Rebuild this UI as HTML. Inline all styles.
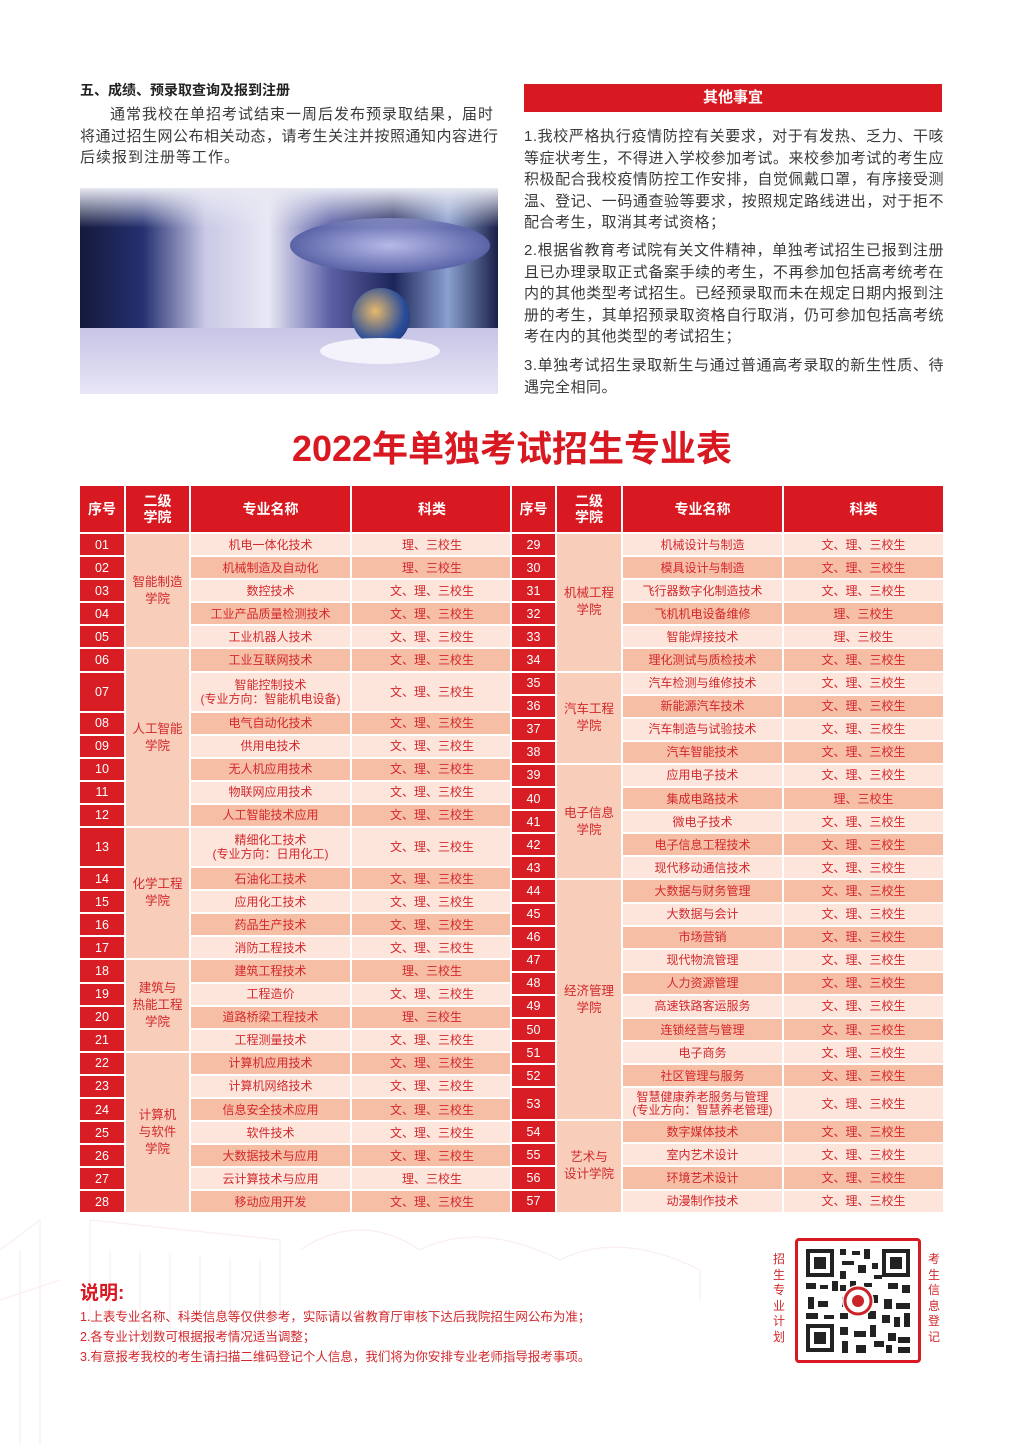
<!DOCTYPE html>
<html><head><meta charset="utf-8"><style>
*{margin:0;padding:0;box-sizing:border-box}
body{width:1024px;height:1444px;background:#fff;position:relative;overflow:hidden;font-family:"Liberation Sans","Noto Sans CJK SC",sans-serif;color:#333}
.abs{position:absolute}
.p{font-size:15px;letter-spacing:1px;line-height:21.6px;color:#3a3a3a;text-align:justify}
.pr{letter-spacing:0.5px}
table{position:absolute;border-collapse:collapse;table-layout:fixed;font-size:12px;color:#d2282c}
td{border:2px solid #fff;text-align:center;vertical-align:middle;height:23.1px;padding:0;line-height:14px}
th{background:#d81921;color:#fff;border:2px solid #fff;font-size:14px;font-weight:bold;height:48px;line-height:16px}
td.n{background:#d81d24;color:#fff;font-size:12.5px}
td.c{background:#f8cdb9;color:#d2282c;font-size:12.5px;line-height:17px}
tr.l td.m{background:#fde5db}
tr.d td.m{background:#f7bea6}
tr.h td{height:40px}
tr.h2 td{height:33px}
.note{font-size:12.5px;color:#d2282c;line-height:20px}
.vt{position:absolute;width:14px;font-size:12px;color:#d2282c;line-height:15.5px;text-align:center}
</style></head><body>
<svg class="abs" style="left:0;top:1100px" width="1024" height="344">
<g stroke="#fbeeee" fill="none" stroke-width="1.2">
<path d="M0 150 L40 120 L40 344 M0 200 L60 180 M20 150 V344"/>
<path d="M90 120 L280 140 L280 260 L90 250 Z M110 150 V250 M140 152 V252 M170 154 V254 M200 156 V256 M230 158 V258 M260 160 V258"/>
<path d="M300 150 Q360 110 420 150 Q480 120 560 160 Q620 130 700 170 L700 200"/>
</g></svg>

<div class="abs" style="left:80px;top:80px;font-size:14px;font-weight:bold;color:#222">五、成绩、预录取查询及报到注册</div>
<div class="abs p" style="left:80px;top:104px;width:440px;text-align:left;white-space:nowrap"><span style="padding-left:30px"></span>通常我校在单招考试结束一周后发布预录取结果，届时<br><span style="letter-spacing:0.5px">将通过招生网公布相关动态，请考生关注并按照通知内容进行</span><br>后续报到注册等工作。</div>

<div class="abs" style="left:80px;top:188px;width:418px;height:206px;overflow:hidden;background:linear-gradient(90deg,#141a3c 0%,#243070 15%,#c9c9e6 30%,#e9e8f5 45%,#5b5fa5 60%,#1d2558 75%,#8aa0cf 88%,#1a2048 100%)">
 <div class="abs" style="left:0;top:140px;width:418px;height:66px;background:linear-gradient(180deg,#c7c4e6,#e8e6f6)"></div>
 <div class="abs" style="left:210px;top:30px;width:200px;height:55px;border-radius:50%;background:radial-gradient(#b6b9e8,#34408c)"></div>
 <div class="abs" style="left:272px;top:100px;width:58px;height:58px;border-radius:50%;background:radial-gradient(circle at 40% 40%,#e6b86a,#2a4d9a 60%,#1a2a66)"></div>
 <div class="abs" style="left:240px;top:150px;width:120px;height:26px;border-radius:50%;background:#f4f2fa"></div>
 <div class="abs" style="left:0;top:0;width:418px;height:40px;background:linear-gradient(180deg,#e8e9f3,rgba(230,230,240,0))"></div>
</div>

<div class="abs" style="left:524px;top:84px;width:418px;height:28px;background:#d81921;color:#fff;font-size:15px;font-weight:bold;text-align:center;line-height:28px">其他事宜</div>
<div class="abs p pr" style="left:524px;top:126px;width:420px">1.我校严格执行疫情防控有关要求，对于有发热、乏力、干咳等症状考生，不得进入学校参加考试。来校参加考试的考生应积极配合我校疫情防控工作安排，自觉佩戴口罩，有序接受测温、登记、一码通查验等要求，按照规定路线进出，对于拒不配合考生，取消其考试资格；</div>
<div class="abs p pr" style="left:524px;top:240px;width:420px">2.根据省教育考试院有关文件精神，单独考试招生已报到注册且已办理录取正式备案手续的考生，不再参加包括高考统考在内的其他类型考试招生。已经预录取而未在规定日期内报到注册的考生，其单招预录取资格自行取消，仍可参加包括高考统考在内的其他类型的考试招生；</div>
<div class="abs p pr" style="left:524px;top:355px;width:420px">3.单独考试招生录取新生与通过普通高考录取的新生性质、待遇完全相同。</div>

<div class="abs" style="left:0;top:424px;width:1024px;text-align:center;font-size:36px;font-weight:bold;color:#d81921;line-height:50px">2022年单独考试招生专业表</div>

<table style="left:78px;top:484px;width:434px">
<colgroup><col style="width:46px"><col style="width:65px"><col style="width:161px"><col style="width:162px"></colgroup>
<tr><th>序号</th><th>二级<br>学院</th><th>专业名称</th><th>科类</th></tr>
<tr class="l"><td class="n">01</td><td class="c" rowspan="5">智能制造<br>学院</td><td class="m">机电一体化技术</td><td class="m">理、三校生</td></tr>
<tr class="d"><td class="n">02</td><td class="m">机械制造及自动化</td><td class="m">理、三校生</td></tr>
<tr class="l"><td class="n">03</td><td class="m">数控技术</td><td class="m">文、理、三校生</td></tr>
<tr class="d"><td class="n">04</td><td class="m">工业产品质量检测技术</td><td class="m">文、理、三校生</td></tr>
<tr class="l"><td class="n">05</td><td class="m">工业机器人技术</td><td class="m">文、理、三校生</td></tr>
<tr class="d"><td class="n">06</td><td class="c" rowspan="7">人工智能<br>学院</td><td class="m">工业互联网技术</td><td class="m">文、理、三校生</td></tr>
<tr class="l h"><td class="n">07</td><td class="m">智能控制技术<br>(专业方向：智能机电设备)</td><td class="m">文、理、三校生</td></tr>
<tr class="d"><td class="n">08</td><td class="m">电气自动化技术</td><td class="m">文、理、三校生</td></tr>
<tr class="l"><td class="n">09</td><td class="m">供用电技术</td><td class="m">文、理、三校生</td></tr>
<tr class="d"><td class="n">10</td><td class="m">无人机应用技术</td><td class="m">文、理、三校生</td></tr>
<tr class="l"><td class="n">11</td><td class="m">物联网应用技术</td><td class="m">文、理、三校生</td></tr>
<tr class="d"><td class="n">12</td><td class="m">人工智能技术应用</td><td class="m">文、理、三校生</td></tr>
<tr class="l h"><td class="n">13</td><td class="c" rowspan="5">化学工程<br>学院</td><td class="m">精细化工技术<br>(专业方向：日用化工)</td><td class="m">文、理、三校生</td></tr>
<tr class="d"><td class="n">14</td><td class="m">石油化工技术</td><td class="m">文、理、三校生</td></tr>
<tr class="l"><td class="n">15</td><td class="m">应用化工技术</td><td class="m">文、理、三校生</td></tr>
<tr class="d"><td class="n">16</td><td class="m">药品生产技术</td><td class="m">文、理、三校生</td></tr>
<tr class="l"><td class="n">17</td><td class="m">消防工程技术</td><td class="m">文、理、三校生</td></tr>
<tr class="d"><td class="n">18</td><td class="c" rowspan="4">建筑与<br>热能工程<br>学院</td><td class="m">建筑工程技术</td><td class="m">理、三校生</td></tr>
<tr class="l"><td class="n">19</td><td class="m">工程造价</td><td class="m">文、理、三校生</td></tr>
<tr class="d"><td class="n">20</td><td class="m">道路桥梁工程技术</td><td class="m">理、三校生</td></tr>
<tr class="l"><td class="n">21</td><td class="m">工程测量技术</td><td class="m">文、理、三校生</td></tr>
<tr class="d"><td class="n">22</td><td class="c" rowspan="7">计算机<br>与软件<br>学院</td><td class="m">计算机应用技术</td><td class="m">文、理、三校生</td></tr>
<tr class="l"><td class="n">23</td><td class="m">计算机网络技术</td><td class="m">文、理、三校生</td></tr>
<tr class="d"><td class="n">24</td><td class="m">信息安全技术应用</td><td class="m">文、理、三校生</td></tr>
<tr class="l"><td class="n">25</td><td class="m">软件技术</td><td class="m">文、理、三校生</td></tr>
<tr class="d"><td class="n">26</td><td class="m">大数据技术与应用</td><td class="m">文、理、三校生</td></tr>
<tr class="l"><td class="n">27</td><td class="m">云计算技术与应用</td><td class="m">理、三校生</td></tr>
<tr class="d"><td class="n">28</td><td class="m">移动应用开发</td><td class="m">文、理、三校生</td></tr>
</table>

<table style="left:510px;top:484px;width:433px">
<colgroup><col style="width:45px"><col style="width:66px"><col style="width:161px"><col style="width:161px"></colgroup>
<tr><th>序号</th><th>二级<br>学院</th><th>专业名称</th><th>科类</th></tr>
<tr class="l"><td class="n">29</td><td class="c" rowspan="6">机械工程<br>学院</td><td class="m">机械设计与制造</td><td class="m">文、理、三校生</td></tr>
<tr class="d"><td class="n">30</td><td class="m">模具设计与制造</td><td class="m">文、理、三校生</td></tr>
<tr class="l"><td class="n">31</td><td class="m">飞行器数字化制造技术</td><td class="m">文、理、三校生</td></tr>
<tr class="d"><td class="n">32</td><td class="m">飞机机电设备维修</td><td class="m">理、三校生</td></tr>
<tr class="l"><td class="n">33</td><td class="m">智能焊接技术</td><td class="m">理、三校生</td></tr>
<tr class="d"><td class="n">34</td><td class="m">理化测试与质检技术</td><td class="m">文、理、三校生</td></tr>
<tr class="l"><td class="n">35</td><td class="c" rowspan="4">汽车工程<br>学院</td><td class="m">汽车检测与维修技术</td><td class="m">文、理、三校生</td></tr>
<tr class="d"><td class="n">36</td><td class="m">新能源汽车技术</td><td class="m">文、理、三校生</td></tr>
<tr class="l"><td class="n">37</td><td class="m">汽车制造与试验技术</td><td class="m">文、理、三校生</td></tr>
<tr class="d"><td class="n">38</td><td class="m">汽车智能技术</td><td class="m">文、理、三校生</td></tr>
<tr class="l"><td class="n">39</td><td class="c" rowspan="5">电子信息<br>学院</td><td class="m">应用电子技术</td><td class="m">文、理、三校生</td></tr>
<tr class="d"><td class="n">40</td><td class="m">集成电路技术</td><td class="m">理、三校生</td></tr>
<tr class="l"><td class="n">41</td><td class="m">微电子技术</td><td class="m">文、理、三校生</td></tr>
<tr class="d"><td class="n">42</td><td class="m">电子信息工程技术</td><td class="m">文、理、三校生</td></tr>
<tr class="l"><td class="n">43</td><td class="m">现代移动通信技术</td><td class="m">文、理、三校生</td></tr>
<tr class="d"><td class="n">44</td><td class="c" rowspan="10">经济管理<br>学院</td><td class="m">大数据与财务管理</td><td class="m">文、理、三校生</td></tr>
<tr class="l"><td class="n">45</td><td class="m">大数据与会计</td><td class="m">文、理、三校生</td></tr>
<tr class="d"><td class="n">46</td><td class="m">市场营销</td><td class="m">文、理、三校生</td></tr>
<tr class="l"><td class="n">47</td><td class="m">现代物流管理</td><td class="m">文、理、三校生</td></tr>
<tr class="d"><td class="n">48</td><td class="m">人力资源管理</td><td class="m">文、理、三校生</td></tr>
<tr class="l"><td class="n">49</td><td class="m">高速铁路客运服务</td><td class="m">文、理、三校生</td></tr>
<tr class="d"><td class="n">50</td><td class="m">连锁经营与管理</td><td class="m">文、理、三校生</td></tr>
<tr class="l"><td class="n">51</td><td class="m">电子商务</td><td class="m">文、理、三校生</td></tr>
<tr class="d"><td class="n">52</td><td class="m">社区管理与服务</td><td class="m">文、理、三校生</td></tr>
<tr class="l h2"><td class="n">53</td><td class="m" style="line-height:13px">智慧健康养老服务与管理<br>(专业方向：智慧养老管理)</td><td class="m">文、理、三校生</td></tr>
<tr class="d"><td class="n">54</td><td class="c" rowspan="4">艺术与<br>设计学院</td><td class="m">数字媒体技术</td><td class="m">文、理、三校生</td></tr>
<tr class="l"><td class="n">55</td><td class="m">室内艺术设计</td><td class="m">文、理、三校生</td></tr>
<tr class="d"><td class="n">56</td><td class="m">环境艺术设计</td><td class="m">文、理、三校生</td></tr>
<tr class="l"><td class="n">57</td><td class="m">动漫制作技术</td><td class="m">文、理、三校生</td></tr>
</table>

<div class="abs" style="left:80px;top:1278px;font-size:19px;font-weight:bold;color:#d81921">说明:</div>
<div class="abs note" style="left:80px;top:1307px">1.上表专业名称、科类信息等仅供参考，实际请以省教育厅审核下达后我院招生网公布为准；<br>2.各专业计划数可根据报考情况适当调整；<br>3.有意报考我校的考生请扫描二维码登记个人信息，我们将为你安排专业老师指导报考事项。</div>

<div class="vt" style="left:772px;top:1252px">招生专业计划</div>
<div class="vt" style="left:927px;top:1252px">考生信息登记</div>
<div class="abs" style="left:795px;top:1238px;width:126px;height:125px;border:3px solid #d81921;border-radius:4px;background:#fff">
<svg width="120" height="119" viewBox="0 0 120 119" style="position:absolute;left:0;top:0">
<g fill="#222">
<rect x="8" y="8" width="28" height="28"/><rect x="12" y="12" width="20" height="20" fill="#fff"/><rect x="16" y="16" width="12" height="12"/>
<rect x="84" y="8" width="28" height="28"/><rect x="88" y="12" width="20" height="20" fill="#fff"/><rect x="92" y="16" width="12" height="12"/>
<rect x="8" y="83" width="28" height="28"/><rect x="12" y="87" width="20" height="20" fill="#fff"/><rect x="16" y="91" width="12" height="12"/>
<path d="M42 8h6v6h-6zM54 10h8v4h-8zM66 8h6v10h-6zM44 20h12v4h-12zM60 24h8v8h-8zM74 22h6v6h-6zM8 42h10v6h-10zM22 44h8v4h-8zM34 40h6v10h-6zM90 42h10v6h-10zM104 44h8v8h-8zM10 56h6v12h-6zM20 60h10v6h-10zM86 58h8v10h-8zM98 62h14v6h-14zM8 72h12v6h-12zM26 74h10v4h-10zM84 74h8v8h-8zM96 76h6v10h-6zM106 72h6v14h-6zM42 86h8v8h-8zM56 90h12v6h-12zM72 84h6v12h-6zM44 100h6v12h-6zM58 104h10v8h-10zM76 100h10v6h-10zM90 92h8v8h-8zM100 96h12v6h-12zM88 104h6v8h-6zM100 106h12v6h-12zM42 30h6v8h-6zM76 34h8v4h-8z"/>
<path d="M42 44h6v6h-6zM52 40h6v10h-6zM66 42h8v4h-8zM44 56h4v10h-4zM74 54h6v8h-6zM42 72h8v6h-8zM70 70h8v8h-8z"/>
</g>
<circle cx="60" cy="60" r="16" fill="#fff"/><circle cx="60" cy="60" r="13" fill="none" stroke="#c8242a" stroke-width="3"/><circle cx="60" cy="60" r="6" fill="#c8242a"/>
</svg></div>
</body></html>
